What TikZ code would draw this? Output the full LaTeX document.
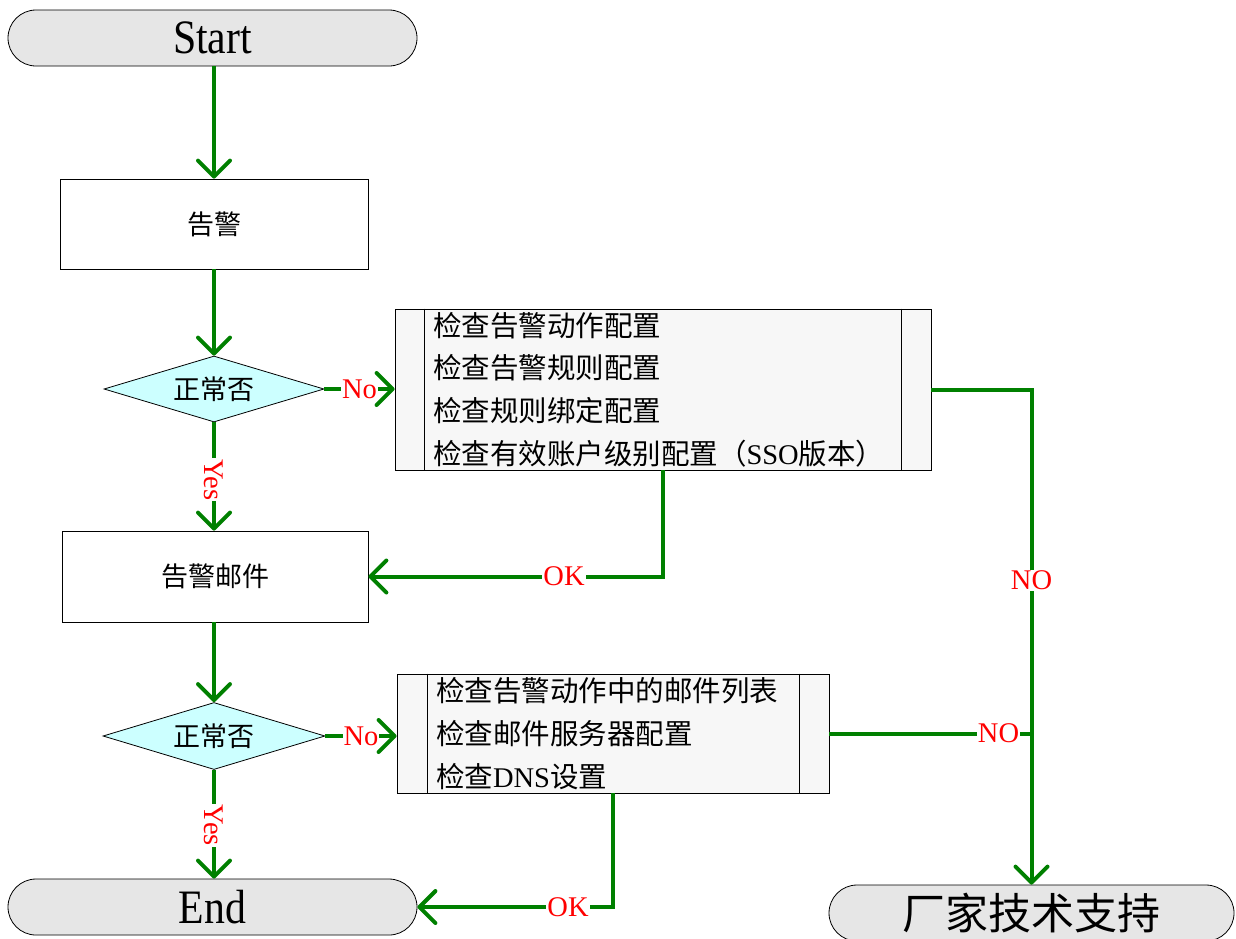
\documentclass[tikz,border=0pt]{standalone}
\usepackage{fontspec}
\setmainfont{Liberation Serif}
\newfontfamily\cjk{Noto Sans CJK SC}
\newcommand\zh[1]{{\cjk #1}}
\usepackage{graphicx}
\usetikzlibrary{arrows.meta,shapes.geometric}
\definecolor{flow}{RGB}{0,128,0}
\definecolor{termgray}{RGB}{230,230,230}
\definecolor{predgray}{RGB}{247,247,247}
\definecolor{deccyan}{RGB}{204,255,255}
\begin{document}
\begin{tikzpicture}[x=1pt,y=-1pt,
  conn/.style={draw=flow, line width=4pt, -{Straight Barb[length=16pt,width=32pt,round]}},
  plain/.style={draw=flow, line width=4pt},
  term/.style={draw=black, fill=termgray, rounded corners=28pt, minimum width=409pt, minimum height=56pt, inner sep=0pt, line width=0.8pt},
  proc/.style={draw=black, fill=white, minimum width=308pt, minimum height=90pt, inner sep=0pt, line width=0.8pt, font=\cjk\fontsize{27}{32}\selectfont},
  dec/.style={diamond, aspect=3.33, draw=black, fill=deccyan, minimum width=220pt, minimum height=66pt, inner sep=0pt, line width=0.8pt, font=\cjk\fontsize{27}{32}\selectfont},
  pred/.style={draw=black, fill=predgray, align=left, inner ysep=0pt, line width=0.8pt, font=\fontsize{28.5}{42.7}\selectfont},
  sep/.style={draw=black, line width=0.8pt},
  lbl/.style={text=red, fill=white, inner sep=1pt, font=\fontsize{28.5}{30}\selectfont}]
\clip (0,0) rectangle (1236,938);
\fill[white] (0,0) rectangle (1236,938);

% nodes
\node[term] (s) at (212.5,38) {\scalebox{0.87}[1]{\fontsize{48}{50}\selectfont Start}};
\node[proc] (a) at (214,224) {告警};
\node[dec] (d1) at (214,389) {正常否};
\node[pred, minimum width=536pt, minimum height=161pt, text width=460pt, inner xsep=38pt] (b1) at (663,389.5)
  {\zh{检查告警动作配置}\\\zh{检查告警规则配置}\\\zh{检查规则绑定配置}\\\zh{检查有效账户级别配置（}SSO\zh{版本）}};
\draw[sep] ([xshift=30pt]b1.north west) -- ([xshift=30pt]b1.south west);
\draw[sep] ([xshift=-30pt]b1.north east) -- ([xshift=-30pt]b1.south east);
\node[proc, minimum width=306pt, minimum height=91pt] (gm) at (215,576.5) {告警邮件};
\node[dec, minimum width=222pt, minimum height=67pt] (d2) at (214,736) {正常否};
\node[pred, minimum width=432pt, minimum height=119pt, text width=354pt, inner xsep=39pt] (b2) at (613,733.5)
  {\zh{检查告警动作中的邮件列表}\\\zh{检查邮件服务器配置}\\\zh{检查}DNS\zh{设置}};
\draw[sep] ([xshift=31pt]b2.north west) -- ([xshift=31pt]b2.south west);
\draw[sep] ([xshift=-30pt]b2.north east) -- ([xshift=-30pt]b2.south east);
\node[term] (en) at (212.5,907) {\scalebox{0.87}[1]{\fontsize{48}{50}\selectfont End}};
\node[term, minimum width=405pt] (sup) at (1031.5,913) {\cjk\fontsize{43}{45}\selectfont 厂家技术支持};
\coordinate (j) at (sup.north |- b2.east);

% connectors
\draw[conn] (s.south -| a.north) -- (a.north);
\draw[conn] (a.south) -- (d1.north);
\draw[conn] (d1.east) -- node[lbl]{No} (b1.west |- d1.east);
\draw[conn] (d1.south) -- node[lbl,rotate=-90,pos=0.53]{Yes} (d1.south |- gm.north);
\draw[conn] (b1.south) |- node[lbl,pos=0.668]{OK} (gm.east);
\draw[conn] (b1.east) -| node[lbl,pos=0.693]{NO} (sup.north);
\draw[conn] (gm.south -| d2.north) -- (d2.north);
\draw[conn] (d2.east) -- node[lbl]{No} (b2.west |- d2.east);
\draw[conn] (d2.south) -- node[lbl,rotate=-90,pos=0.51]{Yes} (d2.south |- en.north);
\draw[conn] (b2.south) |- node[lbl,pos=0.615]{OK} (en.east);
\draw[plain] (b2.east) -- node[lbl,pos=0.837]{NO} (j);
\end{tikzpicture}
\end{document}
